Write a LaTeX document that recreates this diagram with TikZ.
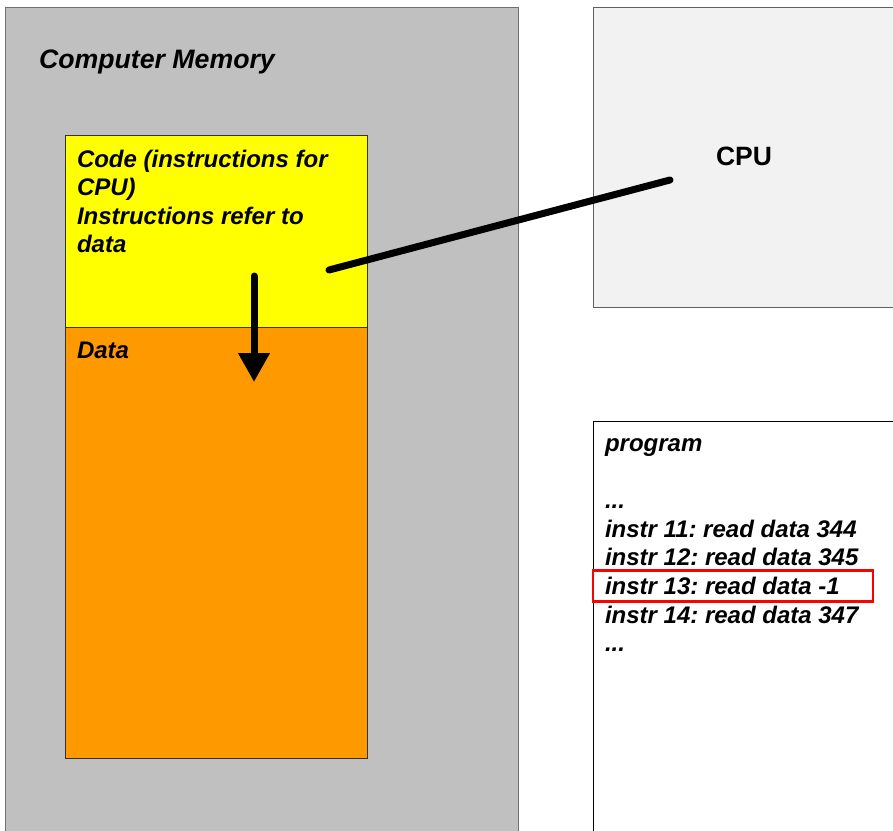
\documentclass[tikz,border=0pt]{standalone}
\usepackage{fontspec}
\setmainfont{Liberation Sans}
\usetikzlibrary{arrows.meta}
\frenchspacing
\definecolor{memgray}{HTML}{C0C0C0}
\definecolor{memborder}{HTML}{707070}
\definecolor{codeyellow}{HTML}{FFFF00}
\definecolor{dataorange}{HTML}{FF9900}
\definecolor{cpufill}{HTML}{F2F2F2}
\definecolor{cpuborder}{HTML}{606060}
\definecolor{hlred}{HTML}{FF0000}
\tikzset{
  box/.style={rectangle, inner sep=0pt, outer sep=0pt, anchor=north west, line width=1pt},
  txt/.style={inner sep=0pt, outer sep=0pt, anchor=base west, font=\fontsize{24}{28.6}\selectfont\bfseries\itshape\frenchspacing},
  bigtxt/.style={inner sep=0pt, outer sep=0pt, anchor=base west, font=\fontsize{26.7}{30}\selectfont\bfseries\itshape},
  link/.style={line width=7pt, line cap=round},
}
\begin{document}
\begin{tikzpicture}[x=1pt, y=-1pt]
\useasboundingbox[fill=white] (0,0) rectangle (893,830);
% memory
\node[box, draw=memborder, fill=memgray, minimum width=513pt, minimum height=850pt] (mem) at (5,7) {};
\node[bigtxt] (memlabel) at (39,68) {Computer Memory};
% code and data
\node[box, draw=black!80, fill=codeyellow, minimum width=302pt, minimum height=192pt] (code) at (65.5,135) {};
\node[box, draw=black!80, fill=dataorange, minimum width=302pt, minimum height=431pt] (data) at (65.5,327) {};
\node[txt] (c1) at (77,167) {Code (instructions for};
\node[txt] (c2) at (77,195.5) {CPU)};
\node[txt] (c3) at (77,224) {Instructions refer to};
\node[txt] (c4) at (77,252.5) {data};
\node[txt] (dlabel) at (77,358) {Data};
% CPU
\node[box, draw=cpuborder, fill=cpufill, minimum width=320pt, minimum height=300pt] (cpu) at (593.5,7) {};
\node[bigtxt, anchor=base, font=\fontsize{26.5}{30}\selectfont\bfseries] (cpulabel) at (744,165) {CPU};
% program
\node[box, draw=black, fill=white, minimum width=320pt, minimum height=430pt] (prog) at (593.5,421) {};
\node[txt] (p0) at (605,451.5) {program};
\node[txt] (p1) at (605,508.7) {...};
\node[txt] (p2) at (605,537.3) {instr 11: read data 344};
\node[txt] (p3) at (605,565.9) {instr 12: read data 345};
\node[txt] (p4) at (605,594.5) {instr 13: read data -1};
\node[txt] (p5) at (605,623.1) {instr 14: read data 347};
\node[txt] (p6) at (605,651.7) {...};
\node[box, draw=hlred, line width=2.5pt, minimum width=280pt, minimum height=31pt] (hl) at (593,570.5) {};
% connectors
\coordinate (codeA) at (329,270);
\coordinate (cpuA) at (670,180);
\draw[link] (codeA) -- (cpuA);
\coordinate (arrS) at (254,276);
\coordinate (arrE) at (254,382);
\draw[link, -{Triangle[length=29pt,width=30pt]}] (arrS) -- (arrE);
\end{tikzpicture}
\end{document}
